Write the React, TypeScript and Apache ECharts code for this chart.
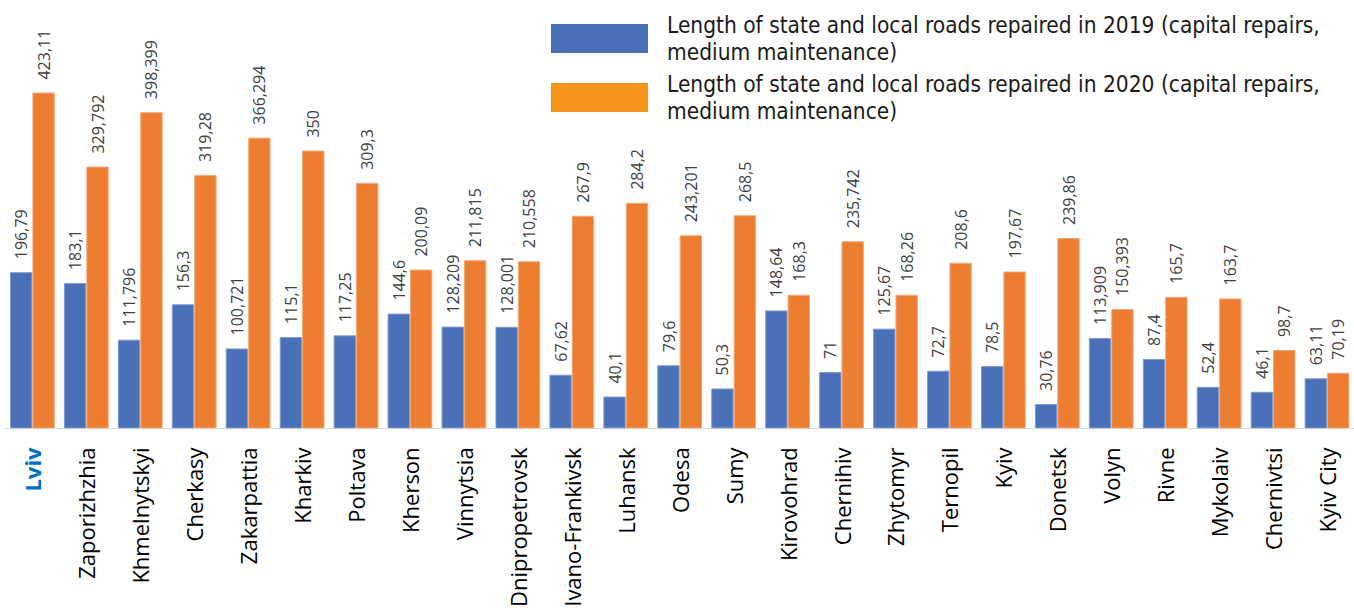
import React, { useEffect, useRef } from "react";
import * as echarts from "echarts";

const regions = [
  "Lviv", "Zaporizhzhia", "Khmelnytskyi", "Cherkasy", "Zakarpattia", "Kharkiv", "Poltava",
  "Kherson", "Vinnytsia", "Dnipropetrovsk", "Ivano-Frankivsk", "Luhansk", "Odesa", "Sumy",
  "Kirovohrad", "Chernihiv", "Zhytomyr", "Ternopil", "Kyiv", "Donetsk", "Volyn", "Rivne",
  "Mykolaiv", "Chernivtsi", "Kyiv City",
];

const repaired2019 = [
  196.79, 183.1, 111.796, 156.3, 100.721, 115.1, 117.25, 144.6, 128.209, 128.001, 67.62, 40.1,
  79.6, 50.3, 148.64, 71, 125.67, 72.7, 78.5, 30.76, 113.909, 87.4, 52.4, 46.1, 63.11,
];

const repaired2020 = [
  423.11, 329.792, 398.399, 319.28, 366.294, 350, 309.3, 200.09, 211.815, 210.558, 267.9, 284.2,
  243.201, 268.5, 168.3, 235.742, 168.26, 208.6, 197.67, 239.86, 150.393, 165.7, 163.7, 98.7, 70.19,
];

const name2019 = "Length of state and local roads repaired in 2019 (capital repairs, medium maintenance)";
const name2020 = "Length of state and local roads repaired in 2020 (capital repairs, medium maintenance)";

const fmt = (v: number) => String(v).replace(".", ",");

export default function App() {
  const ref = useRef<HTMLDivElement>(null);
  useEffect(() => {
    if (!ref.current) return;
    const chart = echarts.init(ref.current, null, { renderer: "svg" });
    const valueLabel = {
      show: true,
      position: "top",
      rotate: 90,
      align: "left",
      verticalAlign: "middle",
      distance: 13,
      fontFamily: "Open Sans",
      fontSize: 16,
      color: "#404040",
      formatter: (p: any) => fmt(p.value),
    };
    chart.setOption({
      animation: false,
      grid: { left: 5.4, top: 31.5, width: 1357.5, height: 399.5, containLabel: false },
      legend: {
        orient: "vertical",
        left: 546,
        top: 5,
        itemWidth: 97,
        itemHeight: 29,
        itemGap: 2,
        icon: "rect",
        selectedMode: false,
        itemStyle: { borderWidth: 0 },
        data: [
          { name: name2019, itemStyle: { color: "#4a70b8", borderWidth: 0 } },
          { name: name2020, itemStyle: { color: "#f7941d", borderWidth: 0 } },
        ],
        formatter: (n: string) => n.replace("repairs, ", "repairs,\n"),
        textStyle: {
          fontFamily: "DejaVu Sans Condensed, sans-serif",
          fontSize: 22.5,
          lineHeight: 26.5,
          color: "#1a1a1a",
          padding: [4, 0, 0, 14],
        },
      },
      xAxis: {
        type: "category",
        data: regions,
        axisTick: { show: false },
        axisLine: { show: true, lineStyle: { color: "#d9d9d9", width: 1 } },
        axisLabel: {
          rotate: 90,
          interval: 0,
          margin: 19,
          fontFamily: "Open Sans",
          fontSize: 22,
          color: "#000000",
          formatter: (v: string) => (v === "Lviv" ? "{b|" + v + "}" : v),
          rich: {
            b: { fontFamily: "Open Sans", fontSize: 22, fontWeight: "bold", color: "#0070c0" },
          },
        },
      },
      yAxis: {
        type: "value",
        min: 0,
        max: 500,
        show: false,
        splitLine: { show: false },
      },
      series: [
        {
          name: name2019,
          type: "bar",
          data: repaired2019,
          barGap: "0%",
          barCategoryGap: "17%",
          itemStyle: { color: "#4a70b8", borderColor: "#7f9bd0", borderWidth: 1 },
          label: valueLabel,
        },
        {
          name: name2020,
          type: "bar",
          data: repaired2020,
          barGap: "0%",
          barCategoryGap: "17%",
          itemStyle: { color: "#ed7d31", borderColor: "#f4a877", borderWidth: 1 },
          label: valueLabel,
        },
      ],
    });
    return () => chart.dispose();
  }, []);
  return (
    <div
      ref={ref}
      style={{ position: "fixed", left: 0, top: 0, width: 1354, height: 610, background: "#ffffff" }}
    />
  );
}
